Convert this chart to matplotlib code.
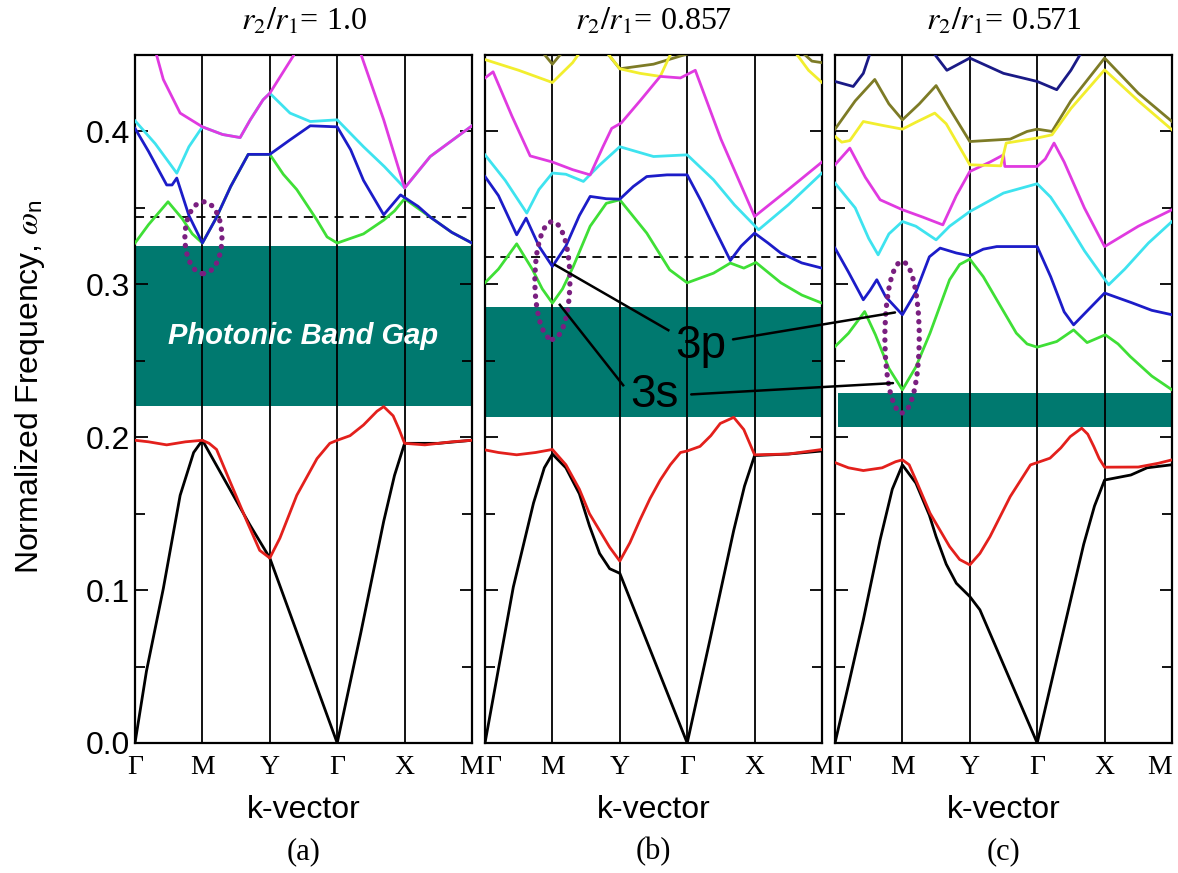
import matplotlib
matplotlib.use("Agg")
import matplotlib.pyplot as plt
from matplotlib.patches import Ellipse, ConnectionPatch

plt.rcParams['font.family'] = ['Liberation Sans', 'DejaVu Sans']
plt.rcParams['mathtext.fontset'] = 'stix'

# k-path labels and panel texts
k_labels = ['\u0393', 'M', 'Y', '\u0393', 'X', 'M']
titles = ['= 1.0', '= 0.857', '= 0.571']
tags = ['(a)', '(b)', '(c)']

# band gaps (lower, upper) and dashed reference lines
gaps = [(0.2205, 0.325), (0.2135, 0.285), (0.2066, 0.2292)]
dashed = [0.344, 0.318, None]

# ---- panel (a), r2/r1 = 1.0 ----
a_black = [(0, 0), (0.17, 0.047), (0.42, 0.101), (0.67, 0.162), (0.87, 0.19), (1, 0.198),
           (1.42, 0.165), (1.7, 0.143), (2, 0.121), (3, 0), (3.35, 0.072), (3.69, 0.145),
           (3.85, 0.175), (4, 0.196), (4.5, 0.196), (5, 0.198)]
a_red = [(0, 0.198), (0.2, 0.197), (0.47, 0.195), (0.75, 0.197), (1, 0.198), (1.1, 0.196),
         (1.21, 0.192), (1.41, 0.171), (1.66, 0.145), (1.85, 0.126), (2, 0.121), (2.15, 0.134),
         (2.4, 0.162), (2.7, 0.186), (2.89, 0.196), (3, 0.198), (3.19, 0.201), (3.39, 0.208),
         (3.59, 0.217), (3.69, 0.220), (3.83, 0.214), (3.92, 0.205), (4, 0.196), (4.3, 0.195),
         (4.7, 0.197), (5, 0.198)]
a_green = [(0, 0.327), (0.2, 0.339), (0.49, 0.354), (0.7, 0.343), (0.85, 0.333), (1, 0.327),
           (1.2, 0.343), (1.42, 0.364), (1.68, 0.385), (2, 0.385), (2.2, 0.372), (2.4, 0.362),
           (2.7, 0.342), (2.85, 0.331), (3, 0.327), (3.39, 0.333), (3.69, 0.342), (3.85, 0.348),
           (4, 0.356), (4.38, 0.344), (4.7, 0.334), (5, 0.327)]
a_blue = [(0, 0.402), (0.2, 0.387), (0.47, 0.365), (0.55, 0.365), (0.62, 0.3695), (0.8, 0.345),
          (1, 0.327), (1.2, 0.343), (1.42, 0.364), (1.68, 0.385), (2, 0.385), (2.3, 0.3945),
          (2.6, 0.4037), (3, 0.403), (3.2, 0.388), (3.39, 0.368), (3.69, 0.3455), (3.94, 0.3585),
          (4.2, 0.351), (4.38, 0.344), (4.7, 0.334), (5, 0.327)]
a_cyan = [(0, 0.407), (0.3, 0.392), (0.62, 0.3727), (0.8, 0.39), (1, 0.403), (1.3, 0.398),
          (1.56, 0.396), (1.71, 0.4076), (1.9, 0.4207), (2, 0.425), (2.3, 0.412), (2.6, 0.4065),
          (3, 0.4076), (3.39, 0.390), (3.7, 0.377), (4, 0.363), (4.38, 0.3836), (5, 0.4037)]
a_magenta = [(0.2, 0.47), (0.32, 0.45), (0.42, 0.434), (0.67, 0.412), (1, 0.403), (1.3, 0.398),
             (1.56, 0.396), (1.71, 0.4076), (1.9, 0.4207), (2, 0.425), (2.35, 0.4495),
             (2.5, 0.47), (3.25, 0.47), (3.36, 0.4495), (3.69, 0.4076), (4, 0.363),
             (4.38, 0.3836), (5, 0.4037)]

# ---- panel (b), r2/r1 = 0.857 ----
b_black = [(0, 0), (0.42, 0.102), (0.72, 0.157), (0.88, 0.18), (1, 0.189), (1.2, 0.18),
           (1.4, 0.163), (1.55, 0.142), (1.7, 0.124), (1.85, 0.114), (2, 0.111), (3, 0),
           (3.35, 0.07), (3.69, 0.139), (3.85, 0.168), (4, 0.188), (4.5, 0.189), (5, 0.191)]
b_red = [(0, 0.1917), (0.2, 0.190), (0.47, 0.1885), (0.75, 0.190), (1, 0.192), (1.2, 0.182),
         (1.4, 0.166), (1.55, 0.150), (1.7, 0.139), (1.85, 0.128), (2, 0.119), (2.15, 0.131),
         (2.3, 0.146), (2.45, 0.160), (2.6, 0.172), (2.75, 0.182), (2.9, 0.190), (3, 0.191),
         (3.19, 0.194), (3.35, 0.201), (3.49, 0.209), (3.69, 0.213), (3.84, 0.205), (4, 0.1885),
         (4.5, 0.189), (5, 0.192)]
b_green = [(0, 0.301), (0.2, 0.31), (0.47, 0.3265), (0.7, 0.31), (0.85, 0.297), (1, 0.2877),
           (1.15, 0.297), (1.31, 0.3117), (1.56, 0.338), (1.8, 0.353), (2, 0.3553), (2.4, 0.3335),
           (2.74, 0.3095), (3, 0.301), (3.39, 0.3073), (3.64, 0.3139), (3.84, 0.3106),
           (4.02, 0.3143), (4.39, 0.301), (4.7, 0.293), (5, 0.2877)]
b_blue = [(0, 0.3705), (0.2, 0.358), (0.47, 0.3324), (0.61, 0.3433), (0.8, 0.325), (1, 0.3117),
          (1.2, 0.325), (1.4, 0.345), (1.56, 0.3575), (1.8, 0.356), (2, 0.3557), (2.2, 0.364),
          (2.4, 0.3705), (2.7, 0.3716), (3, 0.3716), (3.2, 0.355), (3.39, 0.3378), (3.64, 0.3156),
          (3.8, 0.325), (4, 0.3335), (4.2, 0.327), (4.39, 0.3204), (4.7, 0.314), (5, 0.3106)]
b_cyan = [(0, 0.3847), (0.3, 0.368), (0.62, 0.3466), (0.8, 0.362), (1, 0.3728), (1.2, 0.372),
          (1.46, 0.3673), (1.7, 0.378), (2, 0.390), (2.5, 0.3836), (3, 0.3847), (3.39, 0.3684),
          (3.7, 0.352), (4.06, 0.3357), (4.5, 0.352), (5, 0.3728)]
b_magenta = [(0, 0.435), (0.12, 0.439), (0.4, 0.41), (0.67, 0.384), (1, 0.380), (1.3, 0.375),
             (1.56, 0.3716), (1.75, 0.39), (1.88, 0.402), (2.02, 0.4055), (2.3, 0.42), (2.6, 0.436),
             (2.9, 0.435), (3.12, 0.440), (3.5, 0.395), (4, 0.3444), (4.5, 0.362), (5, 0.380)]
b_yellow = [(0, 0.447), (0.5, 0.44), (1, 0.432), (1.3, 0.445), (1.46, 0.455), (1.75, 0.455),
            (2, 0.441), (2.3, 0.438), (2.6, 0.436), (2.8, 0.455), (4.55, 0.455), (4.8, 0.44),
            (5, 0.432)]
b_olive = [(0.85, 0.452), (1, 0.444), (1.15, 0.452), (1.8, 0.452), (2, 0.441), (2.5, 0.444),
           (3.1, 0.452), (4.7, 0.452), (4.85, 0.446), (5, 0.445)]

# ---- panel (c), r2/r1 = 0.571 ----
c_black = [(0, 0), (0.2, 0.038), (0.42, 0.0805), (0.67, 0.133), (0.85, 0.166), (1, 0.1819),
           (1.2, 0.17), (1.4, 0.149), (1.5, 0.135), (1.65, 0.117), (1.8, 0.1045), (2, 0.0958),
           (2.15, 0.0871), (3, 0), (3.35, 0.066), (3.69, 0.13), (3.85, 0.155), (4, 0.172),
           (4.39, 0.1753), (4.63, 0.18), (5, 0.182)]
c_red = [(0, 0.1834), (0.2, 0.180), (0.42, 0.1782), (0.7, 0.180), (0.9, 0.184), (1, 0.1852),
         (1.1, 0.182), (1.2, 0.172), (1.41, 0.1503), (1.7, 0.1285), (1.85, 0.12), (2, 0.1165),
         (2.15, 0.124), (2.3, 0.135), (2.6, 0.1612), (2.9, 0.1819), (3, 0.1834), (3.19, 0.1863),
         (3.35, 0.193), (3.49, 0.2004), (3.66, 0.2059), (3.75, 0.202), (3.84, 0.1939),
         (3.92, 0.186), (4, 0.1804), (4.5, 0.1805), (4.8, 0.183), (5, 0.1852)]
c_green = [(0, 0.2593), (0.2, 0.268), (0.44, 0.2822), (0.6, 0.267), (0.8, 0.245), (1, 0.231),
           (1.2, 0.246), (1.41, 0.2681), (1.7, 0.303), (1.85, 0.313), (2, 0.3165), (2.2, 0.305),
           (2.4, 0.2899), (2.69, 0.2681), (2.85, 0.261), (3, 0.2589), (3.29, 0.2626),
           (3.54, 0.2702), (3.74, 0.2619), (4.01, 0.267), (4.2, 0.261), (4.38, 0.2528),
           (4.7, 0.24), (5, 0.231)]
c_blue = [(0, 0.3237), (0.2, 0.308), (0.42, 0.2899), (0.52, 0.296), (0.62, 0.303), (0.75, 0.292),
          (1, 0.2801), (1.2, 0.295), (1.4, 0.318), (1.56, 0.3237), (1.8, 0.3205), (2, 0.3187),
          (2.2, 0.323), (2.4, 0.3247), (3, 0.3247), (3.2, 0.305), (3.4, 0.282), (3.54, 0.2735),
          (3.75, 0.283), (4, 0.2943), (4.4, 0.288), (4.7, 0.283), (5, 0.2801)]
c_cyan = [(0, 0.3662), (0.3, 0.35), (0.5, 0.33), (0.64, 0.3193), (0.8, 0.333), (1, 0.3411),
          (1.2, 0.338), (1.5, 0.3291), (1.7, 0.338), (2, 0.3476), (2.5, 0.3597), (3, 0.3658),
          (3.2, 0.357), (3.39, 0.3444), (3.7, 0.322), (4.06, 0.2997), (4.3, 0.31), (4.65, 0.327),
          (5, 0.3411)]
c_magenta = [(0, 0.3782), (0.22, 0.3891), (0.45, 0.37), (0.67, 0.3553), (1, 0.3488), (1.3, 0.344),
             (1.6, 0.3389), (1.8, 0.358), (2, 0.3738), (2.3, 0.38), (2.5, 0.3847), (2.52, 0.3771),
             (3, 0.3771), (3.12, 0.382), (3.25, 0.3924), (3.4, 0.38), (3.7, 0.35), (4, 0.3247),
             (4.5, 0.338), (5, 0.3488)]
c_yellow = [(0, 0.3967), (0.1, 0.393), (0.22, 0.394), (0.42, 0.4065), (0.7, 0.404), (1, 0.4015),
            (1.2, 0.406), (1.48, 0.412), (1.65, 0.405), (2, 0.3782), (2.46, 0.3775), (2.54, 0.3924),
            (3, 0.3957), (3.22, 0.3978), (3.5, 0.415), (4, 0.4403), (4.5, 0.42), (5, 0.4011)]
c_olive = [(0, 0.4015), (0.3, 0.42), (0.59, 0.434), (0.8, 0.418), (1, 0.4076), (1.25, 0.418),
           (1.5, 0.430), (1.7, 0.415), (2, 0.3934), (2.6, 0.395), (2.85, 0.40), (3, 0.4015),
           (3.22, 0.400), (3.5, 0.42), (4, 0.448), (4.5, 0.425), (5, 0.4065)]
c_navy = [(0, 0.4327), (0.27, 0.4294), (0.42, 0.438), (0.55, 0.455), (1.4, 0.455), (1.66, 0.440),
          (2, 0.448), (2.5, 0.438), (3, 0.4327), (3.29, 0.4273), (3.5, 0.44), (3.7, 0.455)]

colors = {'black': '#000000', 'red': '#e3201c', 'green': '#3fdf36', 'blue': '#1c1cc8',
          'cyan': '#3ee3ef', 'magenta': '#e03ae0', 'yellow': '#f2ee2e', 'olive': '#7d7b26',
          'navy': '#1a1a86'}
teal = '#00796f'
purple = '#7a1f80'

panels = [
    [('black', a_black), ('red', a_red), ('green', a_green), ('blue', a_blue),
     ('cyan', a_cyan), ('magenta', a_magenta)],
    [('black', b_black), ('red', b_red), ('olive', b_olive), ('yellow', b_yellow),
     ('green', b_green), ('blue', b_blue), ('cyan', b_cyan), ('magenta', b_magenta)],
    [('black', c_black), ('red', c_red), ('green', c_green), ('blue', c_blue),
     ('cyan', c_cyan), ('magenta', c_magenta), ('olive', c_olive), ('yellow', c_yellow),
     ('navy', c_navy)],
]
# dotted ellipses around M: (centre k, centre w, width, height)
ellipses = [(1.015, 0.3305, 0.55, 0.047), (1.0, 0.3025, 0.52, 0.077), (0.995, 0.2654, 0.51, 0.099)]

fig = plt.figure(figsize=(11.78, 8.73), dpi=100)
lefts = [135 / 1178, 485 / 1178, 835 / 1178]
axes = []
for i, left in enumerate(lefts):
    ax = fig.add_axes([left, 1 - 743 / 873, 337 / 1178, 688 / 873])
    axes.append(ax)
    lo, hi = gaps[i]
    ax.axhspan(lo, hi, xmin=0.01 if i == 2 else 0, xmax=1, color=teal, lw=0, zorder=1)
    for k in range(1, 5):
        ax.axvline(k, color='black', lw=1.3, zorder=2)
    if dashed[i] is not None:
        ax.axhline(dashed[i], color='black', lw=1.3, ls=(0, (5, 3.5)), zorder=2)
    for name, pts in panels[i]:
        ks = [p[0] for p in pts]
        ws = [p[1] for p in pts]
        ax.plot(ks, ws, color=colors[name], lw=2.0, zorder=3, solid_joinstyle='round')
    ex, ey, ew, eh = ellipses[i]
    ax.add_patch(Ellipse((ex, ey), ew, eh, fill=False, ec=purple, lw=3.8,
                         ls=(0, (0.05, 1.6)), capstyle='round', zorder=5))
    ax.set_xlim(0, 5)
    ax.set_ylim(0, 0.45)
    ax.set_xticks(range(6))
    ax.set_xticklabels(k_labels, fontfamily='Liberation Serif', fontsize=20)
    ax.tick_params(axis='x', length=0, pad=9)
    xl = ax.get_xticklabels()
    if i > 0:
        xl[0].set_horizontalalignment('left')
    if i == 2:
        xl[-1].set_horizontalalignment('right')
    ax.set_yticks([0, 0.1, 0.2, 0.3, 0.4])
    ax.set_yticks([0.05, 0.15, 0.25, 0.35], minor=True)
    ax.tick_params(axis='y', which='both', direction='in', left=True, right=True,
                   width=1.3, labelsize=23)
    ax.tick_params(axis='y', which='major', length=9)
    ax.tick_params(axis='y', which='minor', length=7)
    if i == 0:
        ax.set_yticklabels(['0.0', '0.1', '0.2', '0.3', '0.4'])
    else:
        ax.set_yticklabels([])
    for s in ax.spines.values():
        s.set_linewidth(1.6)
    ax.text(0.5, 1.036, r'$r_2/r_1$' + titles[i], transform=ax.transAxes, ha='center',
            va='baseline', fontsize=23, fontfamily='Liberation Serif')
    ax.text(0.5, -0.097, 'k-vector', transform=ax.transAxes, ha='center', va='center',
            fontsize=23)
    ax.text(0.5, -0.158, tags[i], transform=ax.transAxes, ha='center', va='center',
            fontsize=22, fontfamily='Liberation Serif')

axa, axb, axc = axes
axa.text(2.49, 0.266, 'Photonic Band Gap', color='white', fontsize=21, fontweight='bold',
         fontstyle='italic', ha='center', va='center', zorder=4)

fig.text(30 / 1178, 1 - 387 / 873, r'Normalized Frequency, $\omega_{\mathregular{n}}$',
         rotation=90, ha='center', va='center', fontsize=23)

# 3p / 3s labels with leader lines
axb.text(3.2, 0.252, '3p', fontsize=33, ha='center', va='baseline', zorder=6)
axb.text(2.52, 0.220, '3s', fontsize=33, ha='center', va='baseline', zorder=6)
axb.plot([1.04, 2.72], [0.3127, 0.270], color='black', lw=1.8, zorder=6)
axb.plot([1.11, 2.05], [0.2866, 0.234], color='black', lw=1.8, zorder=6)
for (ka, wa), (kc, wc) in [((3.68, 0.264), (0.89, 0.2816)), ((3.06, 0.228), (0.86, 0.2354))]:
    cp = ConnectionPatch(xyA=(ka, wa), coordsA=axb.transData, xyB=(kc, wc),
                         coordsB=axc.transData, color='black', lw=1.8, zorder=6)
    fig.add_artist(cp)

fig.savefig('out.png', dpi=100)
